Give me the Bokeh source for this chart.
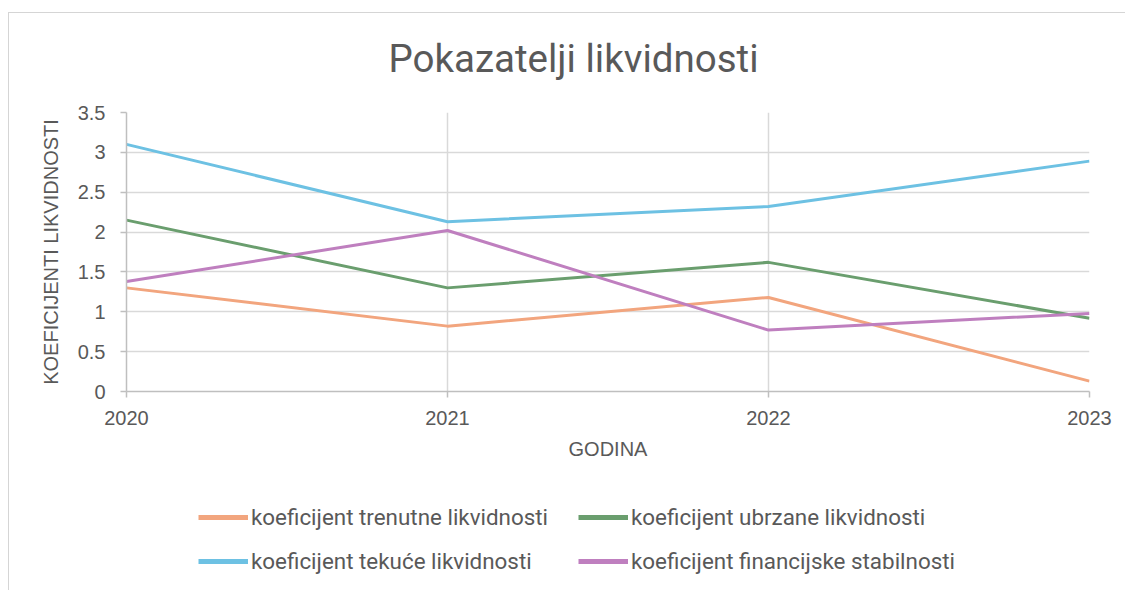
from bokeh.plotting import figure
from bokeh.layouts import column
from bokeh.models import Legend, LegendItem, FixedTicker, Title
from bokeh.embed import file_html
from bokeh.resources import INLINE

years = [2020, 2021, 2022, 2023]
trenutne = [1.30, 0.82, 1.18, 0.13]
ubrzane = [2.15, 1.30, 1.62, 0.92]
tekuce = [3.10, 2.13, 2.32, 2.89]
financijske = [1.38, 2.02, 0.77, 0.98]
y_ticks = [0, 0.5, 1, 1.5, 2, 2.5, 3, 3.5]
y_tick_labels = ["0", "0.5", "1", "1.5", "2", "2.5", "3", "3.5"]

series = [
    ("koeficijent trenutne likvidnosti", trenutne, "#F2A57E"),
    ("koeficijent ubrzane likvidnosti", ubrzane, "#6A9E6E"),
    ("koeficijent tekuće likvidnosti", tekuce, "#6DC1E3"),
    ("koeficijent financijske stabilnosti", financijske, "#BF7FBF"),
]

# ---------------- main chart ----------------
p = figure(width=1125, height=481, frame_width=963, frame_height=279,
           output_backend="svg", toolbar_location=None,
           x_range=(2020, 2023), y_range=(0, 3.5),
           min_border_left=126, min_border_right=36, min_border_top=112,
           min_border_bottom=90)
p.title = None
p.add_layout(Title(text="Pokazatelji likvidnosti", align="left", offset=262,
                   text_font="Roboto", text_font_size="38.5px", text_font_style="normal",
                   text_color="#595959", standoff=64), "above")
p.outline_line_color = None
p.background_fill_color = "white"
p.border_fill_color = None

grid_color = "#D9D9D9"
p.xgrid.grid_line_color = grid_color
p.ygrid.grid_line_color = grid_color
p.xgrid.grid_line_width = 1.5
p.ygrid.grid_line_width = 1.5

p.xaxis.ticker = FixedTicker(ticks=years)
p.yaxis.ticker = FixedTicker(ticks=y_ticks)
p.yaxis.major_label_overrides = dict(zip(y_ticks, y_tick_labels))
for ax in (p.xaxis[0], p.yaxis[0]):
    ax.axis_line_color = "#BFBFBF"
    ax.axis_line_width = 1.5
    ax.major_tick_line_color = "#BFBFBF"
    ax.major_tick_line_width = 1.5
    ax.major_tick_out = 6
    ax.major_tick_in = 0
    ax.minor_tick_line_color = None
    ax.major_label_text_font = "Liberation Sans"
    ax.major_label_text_font_size = "20px"
    ax.major_label_text_color = "#595959"
    ax.axis_label_text_font = "Liberation Sans"
    ax.axis_label_text_font_size = "20px"
    ax.axis_label_text_font_style = "normal"
    ax.axis_label_text_color = "#595959"
p.xaxis.axis_label = "GODINA"
p.yaxis.axis_label = "KOEFICIJENTI LIKVIDNOSTI"
p.xaxis.major_label_standoff = 13
p.yaxis.major_label_standoff = 15
p.xaxis.axis_label_standoff = 10
p.yaxis.axis_label_standoff = 13

for name, vals, color in series:
    p.line(years, vals, line_color=color, line_width=3)

# ---------------- legend strip ----------------
lg = figure(width=1125, height=109, output_backend="svg", toolbar_location=None,
            x_range=(0, 1), y_range=(0, 1), x_axis_type=None, y_axis_type=None,
            min_border_left=0, min_border_right=0, min_border_top=0, min_border_bottom=0)
lg.title = None
lg.outline_line_color = None
lg.background_fill_color = None
lg.border_fill_color = None
lg.xgrid.visible = False
lg.ygrid.visible = False

items = []
for name, vals, color in series:
    # same series drawn in the legend strip (outside its visible range); used as legend keys
    r = lg.line(years, vals, line_color=color, line_width=5)
    items.append(LegendItem(label=name, renderers=[r]))

legend = Legend(items=items, ncols=2, orientation="horizontal",
                glyph_width=50, glyph_height=24, label_standoff=3,
                label_width=309, label_height=24,
                label_text_font="Roboto", label_text_font_size="22.4px",
                label_text_color="#595959", spacing=18, padding=0, margin=0,
                border_line_color=None, background_fill_alpha=0,
                location=(72, 16))
lg.add_layout(legend)

layout = column(p, lg, spacing=0)
layout.styles = {
    "background": ("linear-gradient(#D5D5D5,#D5D5D5) 8px 12px / 100% 1px no-repeat, "
                   "linear-gradient(#D5D5D5,#D5D5D5) 8px 12px / 1px 100% no-repeat, #FFFFFF"),
}

open("out.html", "w").write(file_html(layout, INLINE))
